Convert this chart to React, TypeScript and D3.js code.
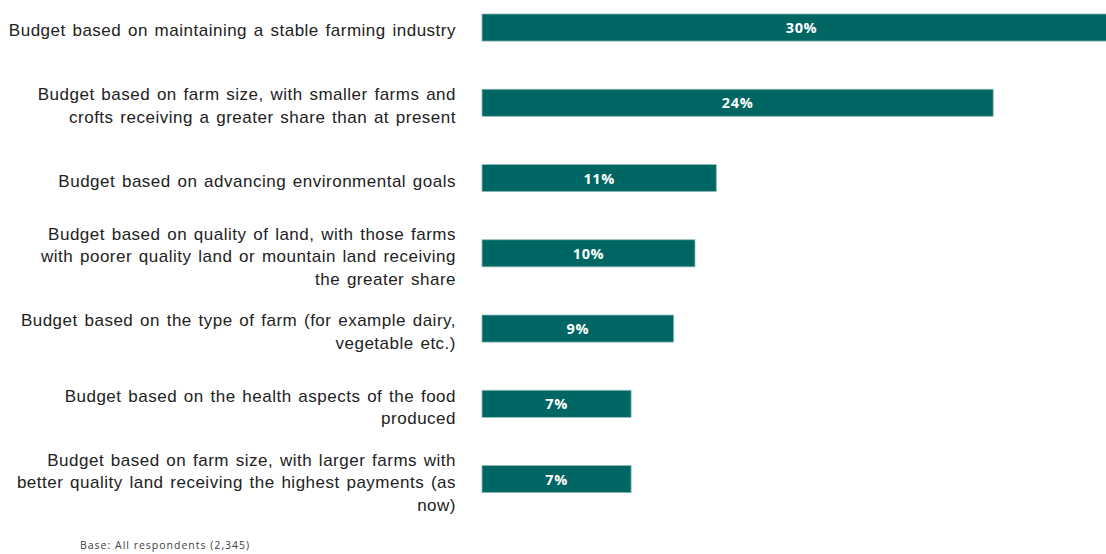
import React from "react";
import * as d3 from "d3";

const categories: string[] = [
  "Budget based on maintaining a stable farming industry",
  "Budget based on farm size, with smaller farms and\ncrofts receiving a greater share than at present",
  "Budget based on advancing environmental goals",
  "Budget based on quality of land, with those farms\nwith poorer quality land or mountain land receiving\nthe greater share",
  "Budget based on the type of farm (for example dairy,\nvegetable etc.)",
  "Budget based on the health aspects of the food\nproduced",
  "Budget based on farm size, with larger farms with\nbetter quality land receiving the highest payments (as\nnow)",
];
const values: number[] = [30, 24, 11, 10, 9, 7, 7];
const baseNote = "Base: All respondents (2,345)";

const W = 1106;
const H = 554;

export default function App() {
  const x = d3.scaleLinear().domain([0, 30]).range([482, 1121]);
  const y = d3
    .scaleBand<number>()
    .domain(d3.range(categories.length))
    .range([-10.1, 516.7])
    .paddingInner(0.64)
    .paddingOuter(0.32);
  const lineH = 22.5;

  return (
    <svg
      width={W}
      height={H}
      style={{ position: "absolute", left: 0, top: 0, background: "#fff" }}
    >
      {categories.map((c, i) => {
        const lines = c.split("\n");
        const cy = (y(i) as number) + y.bandwidth() / 2 + 3;
        const y0 = cy - ((lines.length - 1) * lineH) / 2;
        return (
          <text
            key={"l" + i}
            x={456}
            textAnchor="end"
            fontFamily="Liberation Sans, Arial, sans-serif"
            fontSize={17}
            fill="#222222"
            letterSpacing={0.5}
            wordSpacing={1.5}
          >
            {lines.map((ln, j) => (
              <tspan key={j} x={456} y={y0 + j * lineH} dy="0.35em">
                {ln}
              </tspan>
            ))}
          </text>
        );
      })}
      {values.map((v, i) => (
        <g key={"b" + i}>
          <rect
            x={x(0)}
            y={y(i)}
            width={x(v) - x(0)}
            height={y.bandwidth()}
            fill="#006663"
            stroke="#8fbcba"
            strokeWidth={0.8}
          />
          <text
            x={(x(0) + x(v)) / 2}
            y={(y(i) as number) + y.bandwidth() / 2 + 0.5}
            dy="0.35em"
            textAnchor="middle"
            fill="#ffffff"
            fontFamily="Open Sans, sans-serif"
            fontWeight="bold"
            fontSize={14.5}
            letterSpacing={0.6}
          >
            {v}%
          </text>
        </g>
      ))}
      <text
        x={80}
        y={549}
        fontFamily="Open Sans, sans-serif"
        fontSize={10.5}
        letterSpacing={1}
        fill="#404040"
      >
        {baseNote}
      </text>
    </svg>
  );
}
